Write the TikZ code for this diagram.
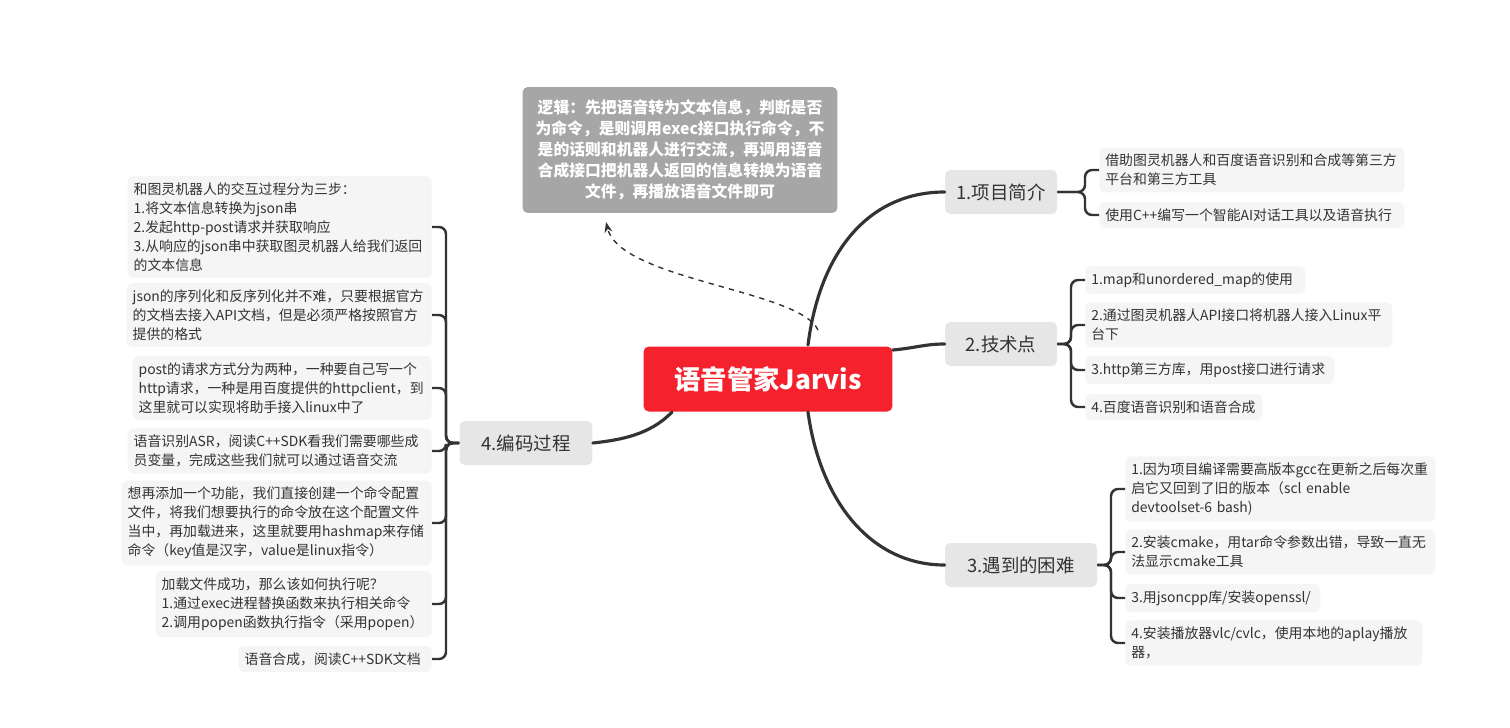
\documentclass[tikz,border=0pt]{standalone}
\usepackage{fontspec}
\setmainfont{Noto Sans CJK SC}
\usetikzlibrary{arrows.meta}
\definecolor{rootred}{HTML}{F5222D}
\definecolor{topicgray}{HTML}{E6E6E6}
\definecolor{leafgray}{HTML}{F5F5F5}
\definecolor{notegray}{HTML}{A6A6A6}
\definecolor{linedark}{HTML}{333333}
\tikzset{
  root/.style={fill=rootred, text=white, rounded corners=3pt, font=\fontsize{15}{18}\selectfont\bfseries,
    minimum width=4.98cm, minimum height=1.3cm},
  topic/.style={fill=topicgray, text=linedark, rounded corners=3pt, font=\fontsize{10.5}{12}\selectfont,
    minimum height=0.88cm, minimum width=2.24cm},
  leaf/.style={fill=leafgray, text=linedark, rounded corners=3pt, align=left,
    font=\fontsize{7.9}{10.8}\selectfont, inner xsep=0.12cm, inner ysep=0.13cm},
  note/.style={fill=notegray, text=white, rounded corners=3pt, align=center,
    font=\fontsize{9}{12}\selectfont\bfseries, minimum width=6.3cm, minimum height=2.52cm, inner xsep=0.1cm},
  branch/.style={draw=linedark, line width=1.8pt, line cap=round},
  twig/.style={draw=linedark, line width=1.4pt, rounded corners=4pt}
}
\begin{document}
\begin{tikzpicture}[x=0.02cm, y=-0.02cm]
\useasboundingbox (0,0) rectangle (1510,727);
% main node and topics
\node[root] (jarvis) at (768,379) {语音管家Jarvis};
\node[topic] (intro) at (1001,192) {1.项目简介};
\node[topic] (tech) at (1001,344) {2.技术点};
\node[topic, minimum width=3.04cm] (trouble) at (1021,565) {3.遇到的困难};
\node[topic, minimum width=2.66cm] (coding) at (526,443) {4.编码过程};
\node[note] (logic) at (680,150) {逻辑：先把语音转为文本信息，判断是否\\为命令，是则调用exec接口执行命令，不\\是的话则和机器人进行交流，再调用语音\\合成接口把机器人返回的信息转换为语音\\文件，再播放语音文件即可};

% leaves of 1
\node[leaf, anchor=west, text width=5.86cm] (intro1) at (1099,170) {借助图灵机器人和百度语音识别和合成等第三方\\平台和第三方工具};
\node[leaf, anchor=west, text width=5.86cm] (intro2) at (1099,215) {使用C++编写一个智能AI对话工具以及语音执行};

% leaves of 2
\node[leaf, anchor=west, text width=4.16cm] (tech1) at (1085,280) {1.map和unordered\_map的使用};
\node[leaf, anchor=west, text width=5.9cm] (tech2) at (1085,325) {2.通过图灵机器人API接口将机器人接入Linux平\\台下};
\node[leaf, anchor=west, text width=4.74cm] (tech3) at (1085,370) {3.http第三方库，用post接口进行请求};
\node[leaf, anchor=west, text width=3.3cm] (tech4) at (1085,407) {4.百度语音识别和语音合成};

% leaves of 3
\node[leaf, anchor=west, text width=5.96cm] (trouble1) at (1125,489) {1.因为项目编译需要高版本gcc在更新之后每次重\\启它又回到了旧的版本（scl enable\\devtoolset-6 bash)};
\node[leaf, anchor=west, text width=5.96cm] (trouble2) at (1125,552) {2.安装cmake，用tar命令参数出错，导致一直无\\法显示cmake工具};
\node[leaf, anchor=west, text width=3.66cm] (trouble3) at (1125,598) {3.用jsoncpp库/安装openssl/};
\node[leaf, anchor=west, text width=5.7cm] (trouble4) at (1125,643) {4.安装播放器vlc/cvlc，使用本地的aplay播放\\器，};

% leaves of 4
\node[leaf, anchor=east, text width=5.84cm] (code1) at (432,227) {和图灵机器人的交互过程分为三步：\\1.将文本信息转换为json串\\2.发起http-post请求并获取响应\\3.从响应的json串中获取图灵机器人给我们返回\\的文本信息};
\node[leaf, anchor=east, text width=5.86cm] (code2) at (432,315) {json的序列化和反序列化并不难，只要根据官方\\的文档去接入API文档，但是必须严格按照官方\\提供的格式};
\node[leaf, anchor=east, text width=5.74cm] (code3) at (432,388) {post的请求方式分为两种，一种要自己写一个\\http请求，一种是用百度提供的httpclient，到\\这里就可以实现将助手接入linux中了};
\node[leaf, anchor=east, text width=5.84cm] (code4) at (432,451) {语音识别ASR，阅读C++SDK看我们需要哪些成\\员变量，完成这些我们就可以通过语音交流};
\node[leaf, anchor=east, text width=5.96cm] (code5) at (432,523) {想再添加一个功能，我们直接创建一个命令配置\\文件，将我们想要执行的命令放在这个配置文件\\当中，再加载进来，这里就要用hashmap来存储\\命令（key值是汉字，value是linux指令）};
\node[leaf, anchor=east, text width=5.28cm] (code6) at (432,604) {加载文件成功，那么该如何执行呢？\\1.通过exec进程替换函数来执行相关命令\\2.调用popen函数执行指令（采用popen）};
\node[leaf, anchor=east, text width=3.62cm] (code7) at (432,659) {语音合成，阅读C++SDK文档};

% main branches
\draw[branch] (808,345) .. controls (820,250) and (870,192) .. (intro.west);
\draw[branch] (jarvis.east |- 0,350) .. controls (915,348) and (925,344) .. (tech.west);
\draw[branch] (808,412) .. controls (820,500) and (870,565) .. (trouble.west);
\draw[branch] (672,412) .. controls (650,435) and (620,440) .. (coding.east);
\draw[dashed, linedark, line width=0.8pt, -{Stealth[length=6pt]}] (818,330) .. controls (800,290) and (620,280) .. (606,222);

% brackets
\foreach \leafname in {intro1,intro2}
  \draw[twig] (intro.east) -- (1085,192) |- (\leafname.west);
\foreach \leafname in {tech1,tech2,tech3,tech4}
  \draw[twig] (tech.east) -- (1071,344) |- (\leafname.west);
\foreach \leafname in {trouble1,trouble2,trouble3,trouble4}
  \draw[twig] (trouble.east) -- (1111,565) |- (\leafname.west);
\foreach \leafname in {code1,code2,code3,code4,code5,code6,code7}
  \draw[twig] (coding.west) -- (446,443) |- (\leafname.east);
\end{tikzpicture}
\end{document}
